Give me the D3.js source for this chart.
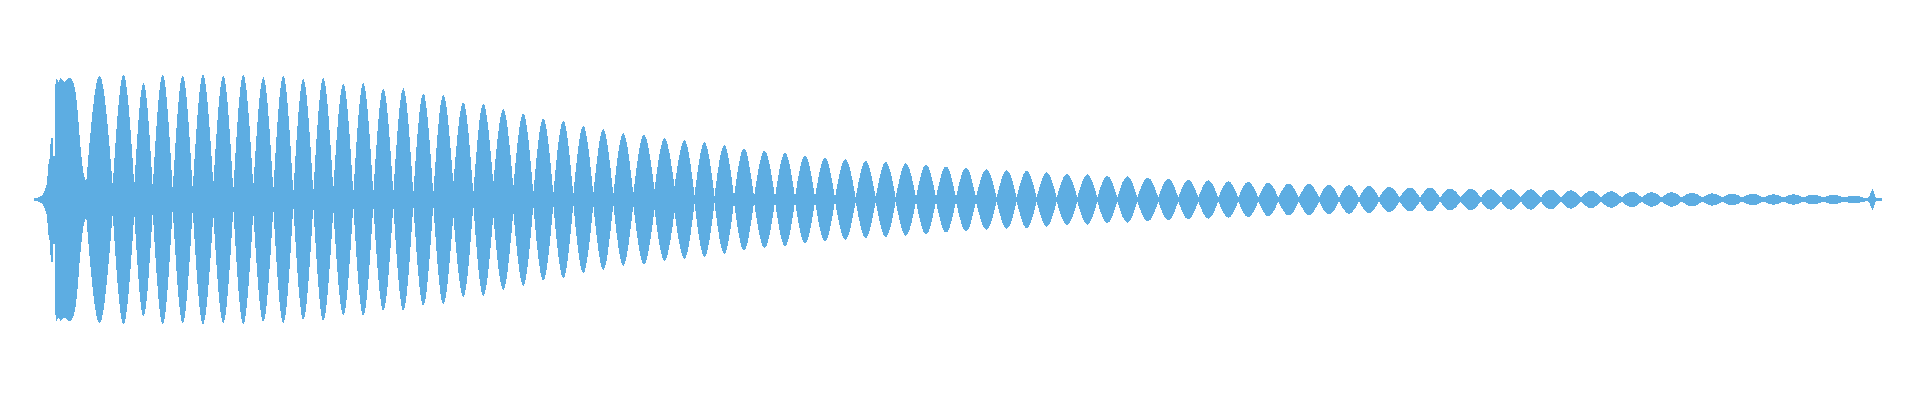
<!DOCTYPE html>
<html>
<head>
<meta charset="utf-8">
<script src="https://cdn.jsdelivr.net/npm/d3@7"></script>
<style>
  html, body { margin: 0; padding: 0; background: #ffffff; }
  svg { display: block; }
</style>
</head>
<body>
<svg id="chart" width="1920" height="400"></svg>
<script>
// ---- DATA (time in ms, amplitude normalised to full scale 1.0) ----
const durationMs = 1848;

// onset: envelope of the attack and the first, irregular beat
const onsetMs  = [0, 3, 6, 9, 11, 13, 14.5, 16, 17, 18.7, 19.3, 20.5, 21, 22.5, 24.5, 26.7, 29, 30.5, 33, 36, 38, 39.3, 41.7, 43.7, 46, 49.3, 52.3];
const onsetAmp = [0.008, 0.012, 0.024, 0.04, 0.08, 0.144, 0.28, 0.352, 0.496, 0.496, 0.352, 0.352, 0.864, 0.968, 0.944, 0.974, 0.952, 0.944, 0.96, 0.974, 0.96, 0.934, 0.854, 0.704, 0.464, 0.224, 0.144];

// beat minima (ms) and envelope level at each minimum
const valleyMs = [52.3, 78.7, 100.3, 118.7, 138.7, 158.7, 179.3, 199.3, 219.3, 239.3,
  259.3, 279.3, 299.3, 319.3, 339.3, 359.3, 379.3, 399.3, 419.3, 439.3,
  459.3, 479.3, 499.3, 519.3, 539.3, 559.3, 579.3, 599.3, 620.5, 640.5,
  660.5, 680.5, 700, 720, 741, 761, 781, 801, 821.7, 841.7,
  861.7, 882, 902, 922, 942, 962.7, 982.7, 1002.7, 1022.7, 1043.3,
  1063.3, 1083.3, 1103.3, 1124.3, 1144.3, 1164.3, 1184.3, 1204.3, 1224.3, 1244.3,
  1265, 1285, 1305, 1325, 1345, 1365.7, 1386, 1406, 1426.7, 1446.7,
  1466.7, 1486.7, 1506.7, 1526.7, 1547, 1567, 1587.7, 1607.7, 1627.7, 1647.7,
  1668.3, 1688.3, 1708.3, 1729.3, 1749.3, 1769.3, 1789.3, 1810, 1831];
const valleyAmp = [0.144, 0.112, 0.112, 0.096, 0.072, 0.08, 0.12, 0.068, 0.1, 0.072,
  0.044, 0.052, 0.08, 0.044, 0.048, 0.048, 0.04, 0.04, 0.128, 0.044,
  0.132, 0.1, 0.048, 0.044, 0.036, 0.042, 0.036, 0.042, 0.08, 0.104,
  0.032, 0.028, 0.024, 0.02, 0.02, 0.02, 0.016, 0.016, 0.016, 0.016,
  0.016, 0.016, 0.016, 0.016, 0.016, 0.016, 0.016, 0.016, 0.016, 0.016,
  0.016, 0.016, 0.016, 0.016, 0.016, 0.016, 0.016, 0.016, 0.016, 0.016,
  0.016, 0.016, 0.016, 0.016, 0.016, 0.016, 0.016, 0.016, 0.016, 0.016,
  0.016, 0.016, 0.016, 0.016, 0.016, 0.016, 0.016, 0.016, 0.016, 0.016,
  0.016, 0.016, 0.016, 0.016, 0.016, 0.016, 0.016, 0.016, 0.012];

// peak level of each beat (between consecutive minima)
const peakAmp = [0.992, 0.998, 0.936, 0.998, 0.99, 0.998, 0.99, 0.998, 0.978, 0.99,
  0.962, 0.97, 0.926, 0.93, 0.89, 0.89, 0.85, 0.838, 0.778, 0.77,
  0.722, 0.69, 0.65, 0.63, 0.59, 0.562, 0.53, 0.52, 0.49, 0.474,
  0.458, 0.434, 0.41, 0.39, 0.374, 0.354, 0.336, 0.322, 0.31, 0.302,
  0.29, 0.28, 0.266, 0.256, 0.242, 0.234, 0.23, 0.218, 0.208, 0.202,
  0.19, 0.186, 0.176, 0.168, 0.16, 0.154, 0.146, 0.142, 0.136, 0.128,
  0.128, 0.12, 0.114, 0.11, 0.102, 0.096, 0.096, 0.088, 0.088, 0.082,
  0.082, 0.082, 0.08, 0.074, 0.07, 0.066, 0.062, 0.058, 0.058, 0.056,
  0.05, 0.048, 0.048, 0.042, 0.042, 0.04, 0.038, 0.03];

// tail: faint residue and final click
const tailMs  = [1831, 1834, 1835.2, 1836.8, 1838.5, 1840.2, 1841.8, 1843, 1847.5];
const tailAmp = [0.012, 0.012, 0.024, 0.054, 0.088, 0.048, 0.016, 0.01, 0.01];

const noiseFloor = 0.016;

// ---- DRAW ----
const W = 1920, H = 400;
const color = "#5DADE2";
const svg = d3.select("#chart");

const x = d3.scaleLinear().domain([0, durationMs]).range([34, 1882]);
const y = d3.scaleLinear().domain([-1, 1]).range([324.5, 74.5]);

const area = (curve) => d3.area()
  .x(d => x(d.t))
  .y0(d => y(-d.a))
  .y1(d => y(d.a))
  .curve(curve);

const g = svg.append("g").attr("fill", color).attr("shape-rendering", "crispEdges");

// noise floor band
g.append("rect")
  .attr("x", x(onsetMs[onsetMs.length - 1]))
  .attr("width", x(valleyMs[valleyMs.length - 1]) - x(onsetMs[onsetMs.length - 1]))
  .attr("y", y(noiseFloor))
  .attr("height", y(-noiseFloor) - y(noiseFloor));

// onset
g.append("path")
  .datum(onsetMs.map((t, i) => ({ t, a: onsetAmp[i] })))
  .attr("d", area(d3.curveMonotoneX));

// beats
const n = Math.min(peakAmp.length, valleyMs.length - 1);
const lobes = d3.range(n).map(i => [
  { t: valleyMs[i], a: valleyAmp[i] },
  { t: (valleyMs[i] + valleyMs[i + 1]) / 2, a: peakAmp[i] },
  { t: valleyMs[i + 1], a: valleyAmp[i + 1] }
]);
g.selectAll("path.lobe")
  .data(lobes)
  .join("path")
  .attr("class", "lobe")
  .attr("d", area(d3.curveMonotoneX));

// tail
g.append("path")
  .datum(tailMs.map((t, i) => ({ t, a: tailAmp[i] })))
  .attr("d", area(d3.curveLinear));
</script>
</body>
</html>
